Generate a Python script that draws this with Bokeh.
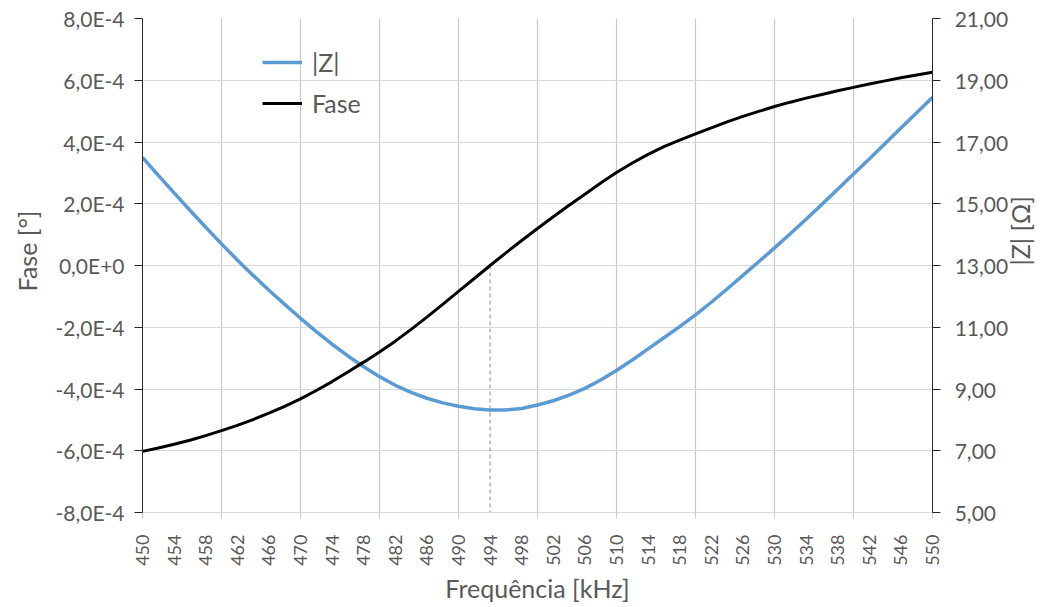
import numpy as np
from bokeh.plotting import figure
from bokeh.models import (Range1d, LinearAxis, FixedTicker, CustomJSTickFormatter,
                          Legend, LegendItem)
from bokeh.embed import file_html
from bokeh.resources import INLINE

# ---------------- data ----------------
freq = [450, 452, 454, 456, 458, 460, 462, 464, 466, 468, 470, 472, 474, 476, 478,
        480, 482, 484, 486, 488, 490, 492, 494, 496, 498, 500, 502, 504, 506, 508,
        510, 512, 514, 516, 518, 520, 522, 524, 526, 528, 530, 532, 534, 536, 538,
        540, 542, 544, 546, 548, 550]

z_abs = [16.50, 15.92, 15.35, 14.79, 14.24, 13.70, 13.18, 12.68, 12.20, 11.74,
         11.29, 10.86, 10.45, 10.07, 9.72, 9.40, 9.12, 8.89, 8.70, 8.55,
         8.44, 8.36, 8.32, 8.32, 8.37, 8.48, 8.62, 8.80, 9.02, 9.29,
         9.60, 9.94, 10.30, 10.66, 11.02, 11.40, 11.81, 12.24, 12.68, 13.12,
         13.57, 14.03, 14.50, 14.98, 15.47, 15.96, 16.45, 16.95, 17.45, 17.95,
         18.45]

fase = [-6.02e-4, -5.91e-4, -5.79e-4, -5.66e-4, -5.51e-4, -5.35e-4, -5.18e-4, -4.99e-4,
        -4.78e-4, -4.56e-4, -4.32e-4, -4.05e-4, -3.76e-4, -3.45e-4, -3.13e-4, -2.80e-4,
        -2.45e-4, -2.07e-4, -1.67e-4, -1.26e-4, -0.84e-4, -0.42e-4, 0.00e-4, 0.41e-4,
        0.81e-4, 1.20e-4, 1.58e-4, 1.95e-4, 2.31e-4, 2.67e-4, 3.01e-4, 3.32e-4,
        3.60e-4, 3.85e-4, 4.06e-4, 4.26e-4, 4.46e-4, 4.65e-4, 4.83e-4, 4.99e-4,
        5.15e-4, 5.29e-4, 5.42e-4, 5.54e-4, 5.66e-4, 5.77e-4, 5.88e-4, 5.98e-4,
        6.08e-4, 6.17e-4, 6.26e-4]

marker_freq = [494]
marker_fase = [0.0]

x_tick_labels = list(range(450, 551, 4))
x_grid = list(range(450, 551, 10))
fase_ticks = [-8e-4, -6e-4, -4e-4, -2e-4, 0.0, 2e-4, 4e-4, 6e-4, 8e-4]
z_ticks = [5, 7, 9, 11, 13, 15, 17, 19, 21]

# ---------------- styles ----------------
FONT = "Lato"
TXT = "#595959"
FSP = "\u2007"  # figure space used as padding in front of texts

p = figure(width=1056, height=607, output_backend="svg", toolbar_location=None,
           x_range=Range1d(freq[0], freq[-1]),
           y_range=Range1d(fase_ticks[0], fase_ticks[-1]),
           min_border_left=142, min_border_right=124, min_border_top=18,
           min_border_bottom=95)
p.outline_line_color = None
p.background_fill_color = "white"
p.border_fill_color = "white"
p.extra_y_ranges = {"z": Range1d(z_ticks[0], z_ticks[-1])}

# grids
p.xgrid.ticker = FixedTicker(ticks=x_grid)
p.xgrid.grid_line_color = "#c8c8c8"
p.xgrid.grid_line_width = 1.2
p.ygrid.ticker = FixedTicker(ticks=fase_ticks)
p.ygrid.grid_line_color = "#d9d9d9"
p.ygrid.grid_line_width = 1.2

# x axis
xa = p.xaxis[0]
xa.ticker = FixedTicker(ticks=x_tick_labels, minor_ticks=x_grid)
xa.major_label_orientation = np.pi / 2
xa.major_tick_line_color = None
xa.major_tick_out = 0
xa.major_tick_in = 0
xa.minor_tick_out = 6
xa.minor_tick_in = 0
xa.minor_tick_line_color = "#c8c8c8"
xa.axis_line_color = "#d9d9d9"
xa.major_label_standoff = 16
xa.major_label_text_font = FONT
xa.major_label_text_font_size = "18px"
xa.major_label_text_color = TXT
xa.axis_label = "Frequência [kHz]"
xa.axis_label_text_font = FONT
xa.axis_label_text_font_size = "25px"
xa.axis_label_text_font_style = "normal"
xa.axis_label_text_color = TXT
xa.axis_label_standoff = 4

# left axis
ya = p.yaxis[0]
ya.ticker = FixedTicker(ticks=fase_ticks)
ya.formatter = CustomJSTickFormatter(
    code="return tick.toExponential(1).replace('.', ',').replace('e', 'E');")
ya.minor_tick_line_color = None
ya.major_tick_out = 8
ya.major_tick_in = 0
ya.axis_line_color = "#262626"
ya.major_tick_line_color = "#262626"
ya.major_label_standoff = 10
ya.major_label_text_font = FONT
ya.major_label_text_font_size = "21px"
ya.major_label_text_color = TXT
ya.axis_label = FSP + FSP + "Fase [°]"
ya.axis_label_text_font = FONT
ya.axis_label_text_font_size = "25px"
ya.axis_label_text_font_style = "normal"
ya.axis_label_text_color = TXT
ya.axis_label_standoff = 10

# right axis
ra = LinearAxis(y_range_name="z", ticker=FixedTicker(ticks=z_ticks),
                formatter=CustomJSTickFormatter(
                    code="return '\\u2007' + tick.toFixed(2).replace('.', ',');"))
ra.minor_tick_line_color = None
ra.major_tick_out = 8
ra.major_tick_in = 0
ra.axis_line_color = "#262626"
ra.major_tick_line_color = "#262626"
ra.major_label_standoff = 2
ra.major_label_text_font = FONT
ra.major_label_text_font_size = "21px"
ra.major_label_text_color = TXT
ra.axis_label = "|Z| [Ω]"
ra.axis_label_text_font = FONT
ra.axis_label_text_font_size = "25px"
ra.axis_label_text_font_style = "normal"
ra.axis_label_text_color = TXT
ra.axis_label_standoff = 9
try:
    ra.axis_label_orientation = np.pi / 2
except Exception:
    pass
p.add_layout(ra, "right")

# marker line at phase zero-crossing
p.segment(x0=marker_freq, y0=marker_fase, x1=marker_freq, y1=[fase_ticks[0]],
          line_color="#8c8c8c", line_width=1, line_dash="4 3")

# series
z_line = p.line(freq, z_abs, y_range_name="z", line_color="#5b9bd5", line_width=3.5)
f_line = p.line(freq, fase, line_color="black", line_width=3)

legend = Legend(items=[LegendItem(label="|Z|", renderers=[z_line]),
                       LegendItem(label="Fase", renderers=[f_line])],
                location=(120, 394))
legend.border_line_color = None
legend.background_fill_alpha = 0
legend.label_text_font = FONT
legend.label_text_font_size = "25px"
legend.label_text_color = TXT
legend.glyph_width = 40
legend.glyph_height = 30
legend.label_height = 30
legend.spacing = 11
legend.padding = 0
legend.margin = 0
legend.label_standoff = 10
p.add_layout(legend)

open("out.html", "w").write(file_html(p, INLINE))
